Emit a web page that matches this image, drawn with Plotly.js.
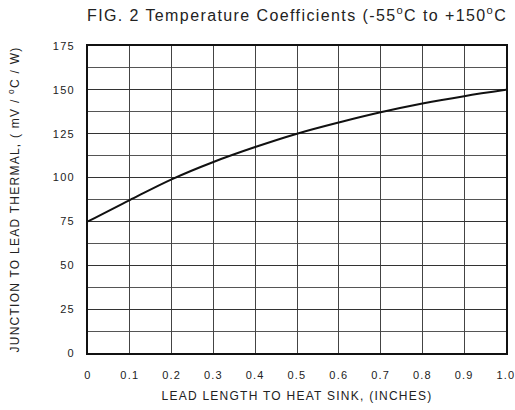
<!DOCTYPE html>
<html>
<head>
<meta charset="utf-8">
<script src="https://cdn.plot.ly/plotly-3.0.1.min.js"></script>
<style>
html,body{margin:0;padding:0;background:#fff;}
#chart{width:515px;height:410px;}
#chart .gtitle{letter-spacing:1.4px;}
#chart .xtick text,#chart .ytick text{letter-spacing:1.2px;}
#chart .xtitle,#chart .ytitle{letter-spacing:1.25px;}
</style>
</head>
<body>
<div id="chart"></div>
<script>
const leadLength = [0, 0.1, 0.2, 0.3, 0.4, 0.5, 0.6, 0.7, 0.8, 0.9, 1.0];
const thermal = [75, 87.2, 99.0, 108.9, 117.4, 125.0, 131.4, 137.2, 142.2, 146.4, 150];
const xTicks = [0, 0.1, 0.2, 0.3, 0.4, 0.5, 0.6, 0.7, 0.8, 0.9, 1.0];
const xTickLabels = ['0', '0.1', '0.2', '0.3', '0.4', '0.5', '0.6', '0.7', '0.8', '0.9', '1.0'];
const yTicks = [0, 25, 50, 75, 100, 125, 150, 175];

const font = 'Liberation Sans, Arial, sans-serif';

Plotly.newPlot('chart', [{
  x: leadLength,
  y: thermal,
  type: 'scatter',
  mode: 'lines',
  line: {color: '#111', width: 2, shape: 'spline', smoothing: 1},
  hoverinfo: 'skip'
}], {
  width: 515, height: 410,
  margin: {l: 88, r: 9, t: 46, b: 57},
  paper_bgcolor: '#fff', plot_bgcolor: '#fff',
  showlegend: false,
  font: {family: font, color: '#222', size: 11},
  title: {
    text: 'FIG. 2 Temperature Coefficients (-55<sup>o</sup>C to +150<sup>o</sup>C',
    font: {family: font, size: 16, color: '#222'},
    xref: 'container', yref: 'container',
    x: 87/515, xanchor: 'left',
    y: 1 - 15/410, yanchor: 'middle'
  },
  xaxis: {
    range: [0, 1],
    tickvals: xTicks, ticktext: xTickLabels,
    ticks: '', ticklabelstandoff: 11,
    showgrid: true, gridcolor: '#444', gridwidth: 1,
    zeroline: false,
    showline: true, linecolor: '#111', linewidth: 2, mirror: true,
    tickfont: {family: font, size: 11, color: '#222'},
    title: {text: 'LEAD LENGTH TO HEAT SINK, (INCHES)', font: {family: font, size: 12, color: '#222'}, standoff: 11},
    fixedrange: true
  },
  yaxis: {
    range: [0, 175],
    tickvals: yTicks,
    ticks: '', ticklabelstandoff: 9,
    showgrid: true, gridcolor: '#333', gridwidth: 1,
    minor: {dtick: 12.5, tick0: 0, showgrid: true, gridcolor: '#555', gridwidth: 1},
    zeroline: false,
    showline: true, linecolor: '#111', linewidth: 2, mirror: true,
    tickfont: {family: font, size: 11, color: '#222'},
    title: {text: 'JUNCTION TO LEAD THERMAL, ( mV / <sup>o</sup>C / W)', font: {family: font, size: 12, color: '#222'}, standoff: 34},
    fixedrange: true
  }
}, {displayModeBar: false, staticPlot: true});
</script>
</body>
</html>
